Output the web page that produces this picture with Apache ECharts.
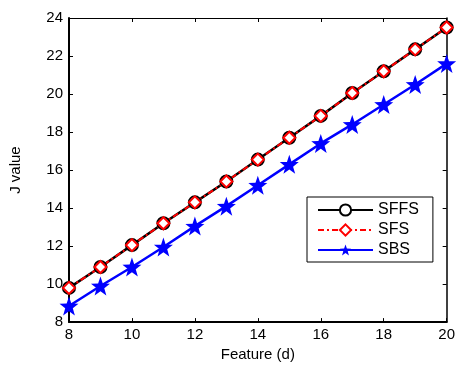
<!DOCTYPE html>
<html>
<head>
<meta charset="utf-8" />
<script src="https://cdn.jsdelivr.net/npm/echarts@6/dist/echarts.min.js"></script>
<style>
  body { margin: 0; background: #fff; }
  #main { width: 458px; height: 367px; }
</style>
</head>
<body>
<div id="main"></div>
<script>
// feature counts on the x axis
var features = [8, 9, 10, 11, 12, 13, 14, 15, 16, 17, 18, 19, 20];
// J values
var sffs = [9.8, 10.9, 12.05, 13.2, 14.3, 15.4, 16.55, 17.7, 18.85, 20.05, 21.2, 22.35, 23.5];
var sfs  = [9.8, 10.9, 12.05, 13.2, 14.3, 15.4, 16.55, 17.7, 18.85, 20.05, 21.2, 22.35, 23.5];
var sbs  = [8.85, 9.9, 10.9, 11.95, 13.05, 14.1, 15.2, 16.3, 17.4, 18.4, 19.45, 20.5, 21.6];

function pairs(ys) {
  return features.map(function (x, i) { return [x, ys[i]]; });
}

var font = 'Liberation Sans, Arial, sans-serif';
var axisLine = { show: true, lineStyle: { color: '#000', width: 2 } };
var tick = { show: true, inside: true, length: 4, lineStyle: { color: '#000' } };
var star = 'path://M0,-10 L2.35,-3.24 L9.51,-3.09 L3.8,1.24 L5.88,8.09 L0,4 L-5.88,8.09 L-3.8,1.24 L-9.51,-3.09 L-2.35,-3.24 Z';

var myChart = echarts.init(document.getElementById('main'));
var option = {
  animation: false,
  grid: { left: 68, right: 7, top: 18, bottom: 38 },
  legend: {
    orient: 'vertical',
    left: 307,
    top: 197,
    itemWidth: 55,
    itemHeight: 14,
    itemGap: 4,
    padding: [5, 14, 4, 10],
    borderColor: '#000',
    borderWidth: 1,
    backgroundColor: '#fff',
    textStyle: { fontFamily: font, fontSize: 16, color: '#000', lineHeight: 14 },
    data: ['SFFS', 'SFS', 'SBS']
  },
  xAxis: [{
    type: 'value', min: 8, max: 20, interval: 2,
    name: 'Feature (d)', nameLocation: 'middle', nameGap: 21,
    nameTextStyle: { fontFamily: font, fontSize: 15, color: '#000' },
    axisLine: axisLine, axisTick: tick,
    axisLabel: { fontFamily: font, fontSize: 15, color: '#000', margin: 5 },
    splitLine: { show: false }
  }, {
    type: 'value', min: 8, max: 20, interval: 2, position: 'top',
    axisLine: { show: true, lineStyle: { color: '#000', width: 1 } },
    axisTick: tick, axisLabel: { show: false }, splitLine: { show: false }
  }],
  yAxis: [{
    type: 'value', min: 8, max: 24, interval: 2,
    name: 'J value', nameLocation: 'middle', nameGap: 46,
    nameTextStyle: { fontFamily: font, fontSize: 15, color: '#000' },
    axisLine: axisLine, axisTick: tick,
    axisLabel: { fontFamily: font, fontSize: 15, color: '#000', margin: 6 },
    splitLine: { show: false }
  }, {
    type: 'value', min: 8, max: 24, interval: 2, position: 'right',
    axisLine: { show: true, lineStyle: { color: '#000', width: 1.5 } },
    axisTick: tick, axisLabel: { show: false }, splitLine: { show: false }
  }],
  series: [{
    name: 'SFFS', type: 'line', data: pairs(sffs),
    symbol: 'circle', symbolSize: 12,
    lineStyle: { color: '#000', width: 2.5 },
    itemStyle: { color: '#fff', borderColor: '#000', borderWidth: 2 }
  }, {
    name: 'SFS', type: 'line', data: pairs(sfs),
    symbol: 'diamond', symbolSize: 12,
    lineStyle: { color: '#f00', width: 2, type: [6, 3, 2, 3] },
    itemStyle: { color: '#fff', borderColor: '#f00', borderWidth: 2 }
  }, {
    name: 'SBS', type: 'line', data: pairs(sbs),
    symbol: star, symbolSize: 19,
    lineStyle: { color: '#00f', width: 2.5 },
    itemStyle: { color: '#00f', borderColor: '#00f', borderWidth: 0 }
  }]
};
myChart.setOption(option);
</script>
</body>
</html>
